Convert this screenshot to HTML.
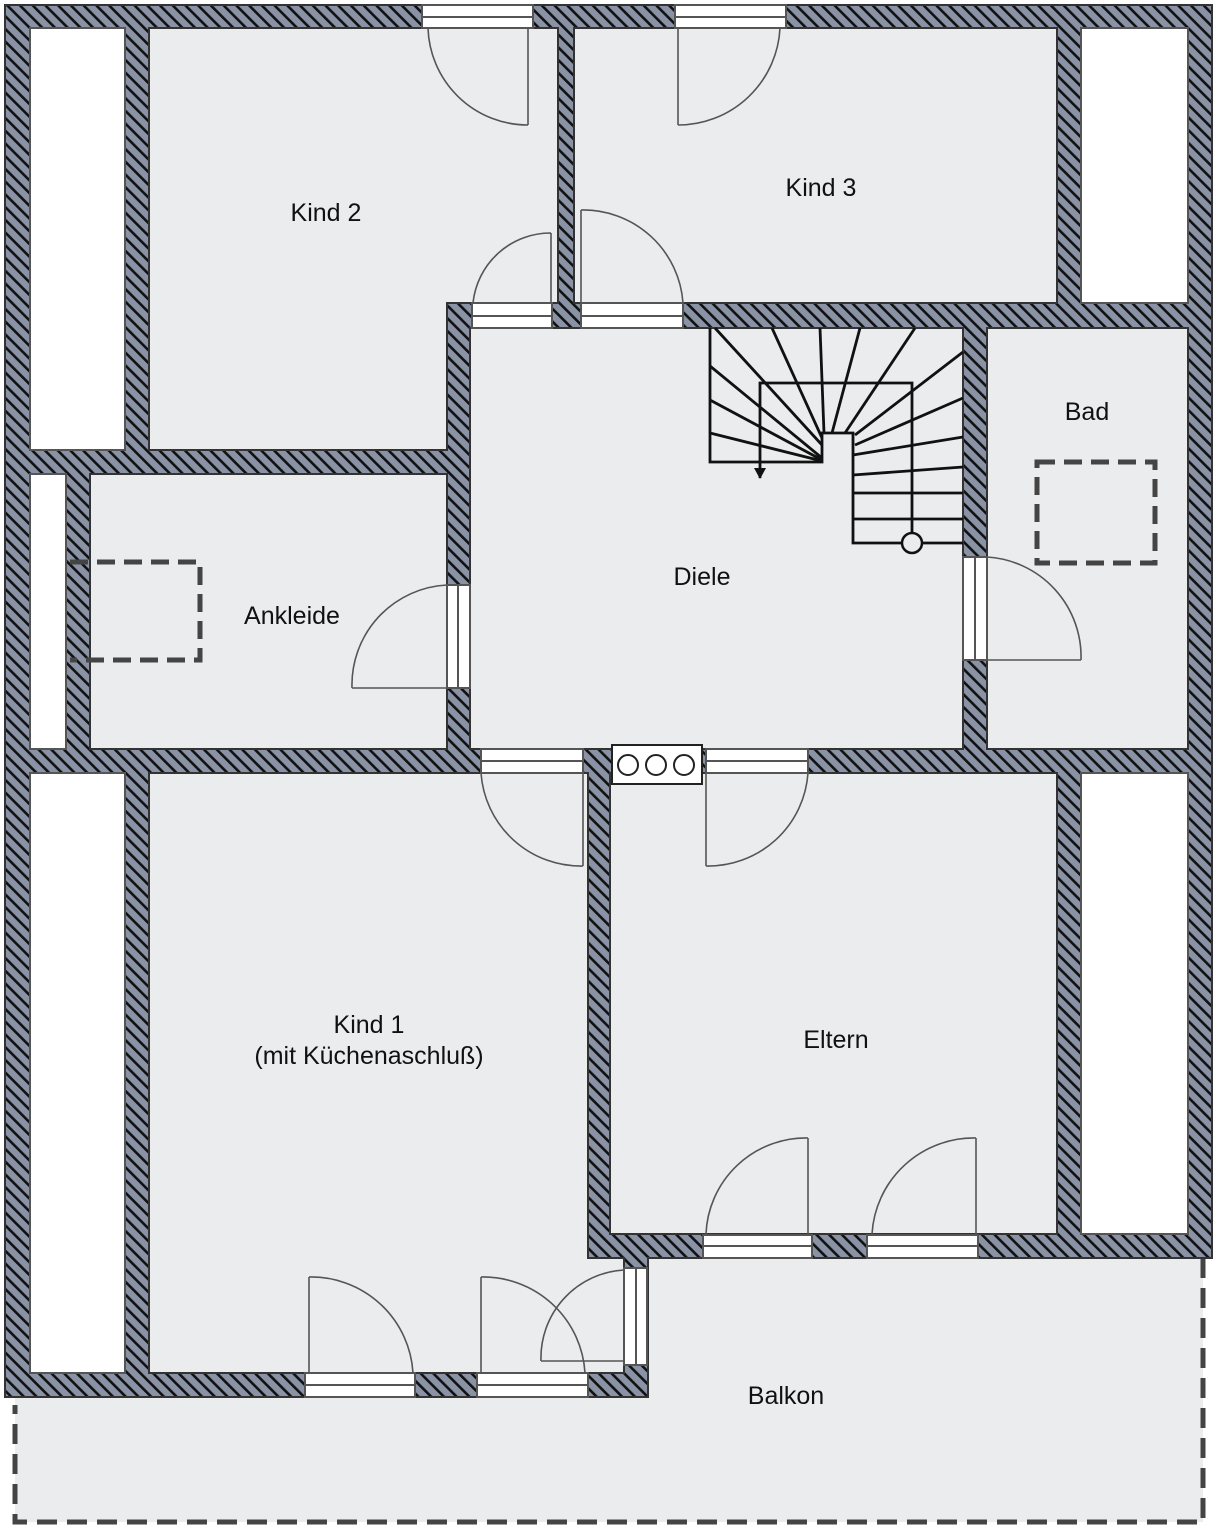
<!DOCTYPE html>
<html><head><meta charset="utf-8"><style>
html,body{margin:0;padding:0;background:#fff;}
svg{display:block;}
text{font-family:"Liberation Sans",Arial,sans-serif;font-size:25px;fill:#111;text-anchor:middle;}
</style></head><body>
<svg width="1227" height="1530" viewBox="0 0 1227 1530" xmlns="http://www.w3.org/2000/svg">
<defs>
<pattern id="h" patternUnits="userSpaceOnUse" width="9" height="9" patternTransform="rotate(-45)">
<rect width="9" height="9" fill="#8a93a6"/>
<rect x="0" y="0" width="2.6" height="9" fill="#111"/>
</pattern>
</defs>
<rect width="1227" height="1530" fill="#fff"/>
<!-- balkon -->
<path d="M648 1258 H1203 V1522 H15 V1397 H648 Z" fill="#ebecee"/>
<path d="M1203 1258 V1522 H15 V1405" fill="none" stroke="#444" stroke-width="5" stroke-dasharray="20 10"/>
<!-- walls -->
<path d="M5 5 H1212 V1258 H648 V1397 H5 Z" fill="url(#h)" stroke="#333" stroke-width="2"/>
<g fill="#ebecee" stroke="#333" stroke-width="2">
<path d="M149 28 H558 V303 H447 V450 H149 Z"/>
<rect x="574" y="28" width="483" height="275"/>
<rect x="470" y="328" width="493" height="421"/>
<rect x="987" y="328" width="201" height="421"/>
<rect x="90" y="474" width="357" height="275"/>
<path d="M149 773 H588 V1258 H624 V1373 H149 Z"/>
<rect x="610" y="773" width="447" height="461"/>
</g>
<g fill="#fff" stroke="#555" stroke-width="2">
<rect x="30" y="28" width="95" height="422"/>
<rect x="1081" y="28" width="107" height="275"/>
<rect x="30" y="474" width="36" height="275"/>
<rect x="30" y="773" width="95" height="600"/>
<rect x="1081" y="773" width="107" height="461"/>
</g>
<!-- door openings -->
<g fill="#fff" stroke="#555" stroke-width="2">
<rect x="422" y="5" width="111" height="23"/><line x1="422" y1="17" x2="533" y2="17"/>
<rect x="675" y="5" width="111" height="23"/><line x1="675" y1="17" x2="786" y2="17"/>
<rect x="472" y="303" width="80" height="25"/><line x1="472" y1="316" x2="552" y2="316"/>
<rect x="581" y="303" width="102" height="25"/><line x1="581" y1="316" x2="683" y2="316"/>
<rect x="447" y="585" width="23" height="103"/><line x1="458" y1="585" x2="458" y2="688"/>
<rect x="963" y="557" width="24" height="103"/><line x1="975" y1="557" x2="975" y2="660"/>
<rect x="481" y="749" width="102" height="24"/><line x1="481" y1="761" x2="583" y2="761"/>
<rect x="706" y="749" width="102" height="24"/><line x1="706" y1="761" x2="808" y2="761"/>
<rect x="703" y="1235" width="109" height="23"/><line x1="703" y1="1246" x2="812" y2="1246"/>
<rect x="867" y="1235" width="111" height="23"/><line x1="867" y1="1246" x2="978" y2="1246"/>
<rect x="305" y="1373" width="110" height="24"/><line x1="305" y1="1385" x2="415" y2="1385"/>
<rect x="477" y="1373" width="111" height="24"/><line x1="477" y1="1385" x2="588" y2="1385"/>
<rect x="624" y="1268" width="23" height="97"/><line x1="636" y1="1268" x2="636" y2="1365"/>
</g>
<!-- door swings -->
<g fill="none" stroke="#555" stroke-width="1.6">
<path d="M528 28 V125 M428 28 A100 100 0 0 0 528 125"/>
<path d="M678 28 V125 M780 28 A102 102 0 0 1 678 125"/>
<path d="M551 303 V233 M473 303 A78 78 0 0 1 551 233"/>
<path d="M581 303 V210 M683 303 A100 100 0 0 0 581 210"/>
<path d="M447 688 H352 M447 585 A100 100 0 0 0 352 688"/>
<path d="M987 660 H1081 M987 557 A100 100 0 0 1 1081 660"/>
<path d="M583 773 V866 M481 773 A100 100 0 0 0 583 866"/>
<path d="M706 773 V866 M808 773 A100 100 0 0 1 706 866"/>
<path d="M808 1234 V1138 M706 1234 A100 100 0 0 1 808 1138"/>
<path d="M976 1234 V1138 M872 1234 A102 102 0 0 1 976 1138"/>
<path d="M309 1373 V1277 M413 1373 A102 102 0 0 0 309 1277"/>
<path d="M481 1373 V1277 M585 1373 A102 102 0 0 0 481 1277"/>
<path d="M624 1361 H541 M541 1361 A88 88 0 0 1 624 1270"/>
</g>
<!-- chimney -->
<rect x="612" y="745" width="90" height="39" fill="#fff" stroke="#222" stroke-width="2"/>
<g fill="none" stroke="#222" stroke-width="2">
<circle cx="628" cy="765" r="10"/><circle cx="656" cy="765" r="10"/><circle cx="684" cy="765" r="10"/>
</g>
<!-- dashed squares -->
<g fill="none" stroke="#444" stroke-width="5" stroke-dasharray="18 9">
<path d="M70 562 H200 V660 H70"/>
<rect x="1037" y="462" width="118" height="101"/>
</g>
<!-- stairs -->
<g fill="none" stroke="#111" stroke-width="2.8">
<path d="M710 328 V462 H822 V433 H853 V543 H963"/>
<path d="M760 478 V383 H912 V533"/>
<path d="M710 366 L822 458 M710 400 L822 460 M710 433 L822 461"/>
<path d="M715 328 L822 445 M772 328 L822 438 M820 328 L824 433"/>
<path d="M860 328 L832 433 M915 328 L845 433 M963 352 L855 435 M963 398 L855 445"/>
<path d="M963 437 L853 455 M963 467 L853 475 M853 493 H963 M853 519 H963"/>
</g>
<circle cx="912" cy="543" r="10" fill="#ebecee" stroke="#111" stroke-width="2.5"/>
<path d="M754 468 L766 468 L760 479 Z" fill="#111"/>
<!-- labels -->
<text x="326" y="221">Kind 2</text>
<text x="821" y="196">Kind 3</text>
<text x="1087" y="420">Bad</text>
<text x="702" y="585">Diele</text>
<text x="292" y="624">Ankleide</text>
<text x="369" y="1033">Kind 1</text>
<text x="369" y="1064">(mit Küchenaschluß)</text>
<text x="836" y="1048">Eltern</text>
<text x="786" y="1404">Balkon</text>
</svg>
</body></html>
